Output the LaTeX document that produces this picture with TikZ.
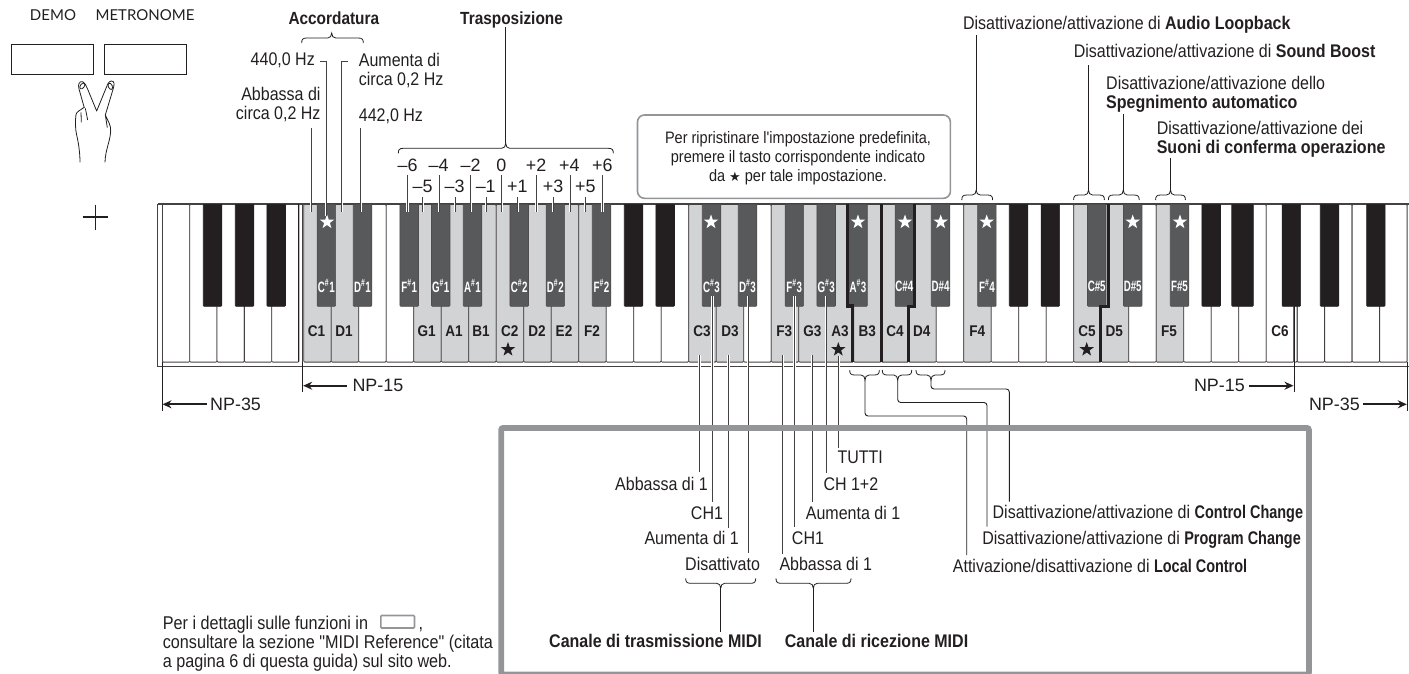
\documentclass[tikz,border=0pt]{standalone}
\usepackage{fontspec}
\usetikzlibrary{arrows.meta,shapes.geometric}
\setmainfont[FakeStretch=.875]{Liberation Sans}
\newfontfamily\plainf[FakeStretch=.875]{Liberation Sans}
\newfontfamily\midf[FakeStretch=.79]{Liberation Sans}
\newfontfamily\widef{Liberation Sans}
\newfontfamily\narrowf[FakeStretch=.65]{Liberation Sans}
\newfontfamily\btnf{Lato}
\newfontfamily\symf{DejaVu Sans}
\definecolor{ink}{HTML}{231F20}
\definecolor{gkey}{HTML}{D1D3D4}
\definecolor{dkey}{HTML}{58595B}
\definecolor{fr}{HTML}{939598}
\newcommand{\brc}[5]{%
\draw[bracel] ({#1},{#4+5*#5}) .. controls ({#1},{#4+1.5*#5}) and ({#1+1},{#4}) .. ({#1+5},{#4}) -- ({#2-4},{#4}) .. controls ({#2-1.5},{#4}) and ({#2},{#4-2*#5}) .. ({#2},{#4-5*#5}) .. controls ({#2},{#4-2*#5}) and ({#2+1.5},{#4}) .. ({#2+4},{#4}) -- ({#3-5},{#4}) .. controls ({#3-1},{#4}) and ({#3},{#4+1.5*#5}) .. ({#3},{#4+5*#5});}
\newcommand{\midb}[1]{{\midf\bfseries #1}}
\tikzset{
 bracel/.style={draw=ink,line width=.8},
 wire/.style={draw=ink!85,line width=.9,preaction={draw=white,line width=2.4}},
 whitek/.style={draw=ink!85,line width=.8,fill=white,rounded corners=1pt,anchor=north west,inner sep=0,minimum height=157.7,minimum width=27.5},
 grayk/.style={whitek,fill=gkey},
 darkk/.style={draw=ink!80,line width=.6,fill=dkey,rounded corners=.8pt,anchor=north,inner sep=0,minimum height=102,minimum width=18.5},
 blackk/.style={darkk,fill=ink,draw=ink},
 lbl/.style={inner sep=0,text=ink,font=\fontsize{18.3}{19}\selectfont,text height=12,text depth=0},
 mlbl/.style={inner sep=0,text=ink,font=\fontsize{18.3}{19}\selectfont},
 head/.style={lbl,font=\bfseries\fontsize{17.6}{19}\selectfont},
 num/.style={inner sep=0,text=ink,font=\widef\fontsize{17.9}{19}\selectfont,text height=12,text depth=0},
 wk/.style={inner sep=0,text=ink,font=\bfseries\fontsize{15.5}{16}\selectfont,text height=10,text depth=0},
 bk/.style={inner sep=0,text=white,font=\narrowf\bfseries\fontsize{15}{14}\selectfont,text height=10,text depth=0},
 wstar/.style={star,star points=5,star point ratio=2.5,fill=white,inner sep=0,minimum size=15,draw=none},
 bstar/.style={wstar,fill=ink},
 arr/.style={draw=ink,line width=1.7,-{Stealth[length=9,width=8]}},
 vline/.style={draw=ink,line width=.9},
}
\begin{document}
\begin{tikzpicture}[x=1pt,y=-1pt]
\useasboundingbox (0,0) rectangle (1409,673);
% base
\draw[draw=ink!85,line width=1] (157.5,204) rectangle (1412,366.7);
\draw[draw=ink!85,line width=1.4] (157.5,204) -- (1412,204);
% white keys left section
\foreach \i in {0,...,4} \node[whitek,minimum width=27.33] (lk\i) at ({162+27.33*\i},204) {};
\draw[draw=ink,line width=1] (298.7,204) -- (298.7,362);
\draw[draw=ink!85,line width=.9] (302.3,204) -- (302.3,362);
% main section
\foreach \i in {0,...,35} {
  \def\sty{whitek}
  \foreach \g in {0,1,4,5,6,7,8,9,10,14,15,17,18,19,20,21,22,24,28,29,31} {\ifnum\i=\g \global\def\sty{grayk}\fi}
  \node[\sty] (k\i) at ({303.3+27.5*\i},204) {};
  \gdef\sty{whitek}
}
\foreach \i in {0,...,3} \node[whitek] (rk\i) at ({1296.7+27.5*\i},204) {};
\node[whitek,minimum width=3.4] (kgap) at (1293.3,204) {};
% black keys
\foreach \n/\x in {l1/212.5,l2/244.5,l3/276.2,h1/633.5,h2/665.2,h3/1018.5,h4/1050.3,h5/1211.2,h7/1291.3,h8/1329.5,h9/1375.8}
  \node[blackk] (b\n) at (\x,204) {};
\node[blackk,minimum width=21.5] (bh6) at (1242.5,204) {};
\foreach \n/\x in {C1/326.3,D1/362.5,F1/409.2,G1/440.7,A1/472.5,C2/519.2,D2/555.3,F2/601.5,C3/711.5,D3/747.5,F3/794.3,G3/826.2,A3/858,C4/904.3,D4/940.5,F4/986.9,C5/1096.7,D5/1132.7,F5/1179.5}
  \node[darkk] (d\n) at (\x,204) {};
% thick key edges
\draw[draw=ink,line width=3.4] (847.5,204) -- (847.5,306) -- (852.5,306) -- (852.5,362);
\draw[draw=ink,line width=3.4] (881.5,204) -- (881.5,362);
\draw[draw=ink,line width=3] (914.5,204) -- (914.5,306) -- (908.5,306) -- (908.5,362);
\draw[draw=ink,line width=3] (1108,204) -- (1108,306) -- (1100.7,306) -- (1100.7,362);
% white key labels
\foreach \t/\x in {C1/316.5,D1/344,G1/426.7,A1/454,B1/481,C2/509.7,D2/537,E2/564,F2/592,C3/702,D3/730,F3/784.3,G3/812.3,A3/840,B3/867.3,C4/895,D4/921.7,F4/977.3,C5/1087,D5/1114.3,F5/1169,C6/1280}
  \node[wk] (L\t) at (\x,331) {\t};
% black key labels
\node[bk] (sC1) at (326.3,287) {C\textsuperscript{\#}1};
\node[bk] (sD1) at (362.5,287) {D\textsuperscript{\#}1};
\node[bk] (sF1) at (409.2,287) {F\textsuperscript{\#}1};
\node[bk] (sG1) at (440.7,287) {G\textsuperscript{\#}1};
\node[bk] (sA1) at (472.5,287) {A\textsuperscript{\#}1};
\node[bk] (sC2) at (519.2,287) {C\textsuperscript{\#}2};
\node[bk] (sD2) at (555.3,287) {D\textsuperscript{\#}2};
\node[bk] (sF2) at (601.5,287) {F\textsuperscript{\#}2};
\node[bk] (sC3) at (711.5,287) {C\textsuperscript{\#}3};
\node[bk] (sD3) at (747.5,287) {D\textsuperscript{\#}3};
\node[bk] (sF3) at (794.3,287) {F\textsuperscript{\#}3};
\node[bk] (sG3) at (826.2,287) {G\textsuperscript{\#}3};
\node[bk] (sA3) at (858,287) {A\textsuperscript{\#}3};
\node[bk] (sC4) at (904.3,286) {C\#4};
\node[bk] (sD4) at (940.5,286) {D\#4};
\node[bk] (sF4) at (986.9,287) {F\textsuperscript{\#}4};
\node[bk] (sC5) at (1096.7,286) {C\#5};
\node[bk] (sD5) at (1132.7,286) {D\#5};
\node[bk] (sF5) at (1179.5,286) {F\#5};
% stars
\foreach \x [count=\n] in {327,711,858,905,940.7,986.7,1132.7,1180} \node[wstar] (ws\n) at (\x,222) {};
\foreach \x [count=\n] in {508,838.3,1086.7} \node[bstar] (bs\n) at (\x,349.5) {};
% connectors
\foreach \x/\ya/\yb [count=\n] in {311/128/212,360.7/128/212,407.3/175/212,422.7/197/212,439/175/212,455/197/212,470.7/175/212,486/197/212,501.7/175/212,517.7/197/212,536.3/175/212,553/197/212,570/175/212,585/197/212,602.3/175/212,
  699.3/355/472.3,712.3/296/502.3,728.3/355/528.3,748.2/296/553.3,782.7/355/554,794.3/296/526.7,812/355/502.3,826/296/473.3,838.7/356/448}
{ \coordinate (wa\n) at (\x,\ya); \coordinate (wb\n) at (\x,\yb); \draw[wire] (wa\n) -- (wb\n); }
\coordinate (acA) at (320,61.7); \coordinate (acB) at (326,61.7); \coordinate (acC) at (326,216);
\draw[wire] (acA) -- (acB) -- (acC);
\coordinate (auA) at (348.3,61.7); \coordinate (auB) at (341.7,61.7); \coordinate (auC) at (341.7,212);
\draw[wire] (auA) -- (auB) -- (auC);
% top-right brace stems
\foreach \x/\ya [count=\n] in {976.2/35,1088.5/65,1123.3/114,1170.5/158.3,505.7/27}
{ \coordinate (sa\n) at (\x,\ya); }
\coordinate (sb1) at (976.2,190); \coordinate (sb2) at (1088.5,190); \coordinate (sb3) at (1123.3,190); \coordinate (sb4) at (1170.5,190); \coordinate (sb5) at (505.7,143);
\foreach \n in {1,...,5} \draw[vline] (sa\n) -- (sb\n);
% braces
\brc{301.7}{331.7}{363.3}{38}{1}
\brc{398.3}{505.7}{613.3}{148.3}{1}
\brc{961.8}{976.2}{992.6}{195}{1}
\brc{1073.6}{1088.5}{1104.4}{195}{1}
\brc{1108.4}{1123.3}{1139.2}{195}{1}
\brc{1155.6}{1170.5}{1185.4}{195}{1}
\brc{849.7}{865}{879.3}{375}{-1}
\brc{882.3}{897.7}{911.7}{375}{-1}
\brc{916}{931}{945}{375}{-1}
\brc{685.7}{720.7}{755.7}{583.3}{-1}
\brc{776}{813.3}{851}{583.3}{-1}
% routed connectors
\coordinate (c1a) at (865,380); \coordinate (c1b) at (865,416); \coordinate (c1c) at (966.7,416); \coordinate (c1d) at (966.7,555);
\coordinate (c2a) at (897.7,380); \coordinate (c2b) at (897.7,402.5); \coordinate (c2c) at (987,402.5); \coordinate (c2d) at (987,526.7);
\coordinate (c3a) at (931,380); \coordinate (c3b) at (931,389); \coordinate (c3c) at (1009.3,389); \coordinate (c3d) at (1009.3,501.7);
\foreach \n in {1,2,3} \draw[vline,rounded corners=3pt] (c\n a) -- (c\n b) -- (c\n c) -- (c\n d);
\coordinate (m1a) at (720.7,588.3); \coordinate (m1b) at (720.7,631.7); \draw[vline] (m1a) -- (m1b);
\coordinate (m2a) at (813.3,588.3); \coordinate (m2b) at (813.3,631.7); \draw[vline] (m2a) -- (m2b);
% NP markers
\coordinate (n1a) at (302.7,362); \coordinate (n1b) at (302.7,392.3); \draw[vline] (n1a) -- (n1b);
\coordinate (n2a) at (162,362); \coordinate (n2b) at (162,411); \draw[vline] (n2a) -- (n2b);
\coordinate (n3a) at (1294,306); \coordinate (n3b) at (1294,392.3); \draw[vline] (n3a) -- (n3b);
\coordinate (n4a) at (1407.3,362); \coordinate (n4b) at (1407.3,411); \draw[vline] (n4a) -- (n4b);
\node[num,anchor=west] (np1) at (352.3,385.7) {NP-15};
\node[num,anchor=west] (np2) at (210,404.3) {NP-35};
\node[num,anchor=east] (np3) at (1245,385.7) {NP-15};
\node[num,anchor=east] (np4) at (1360,404.3) {NP-35};
\coordinate (t1) at (303.2,385.7); \coordinate (t2) at (162.5,404.3); \coordinate (t3) at (1293.5,385.7); \coordinate (t4) at (1406.8,404.3);
\draw[arr] (346.7,385.7) -- (t1);
\draw[arr] (206.7,404.3) -- (t2);
\draw[arr] (1249,385.7) -- (t3);
\draw[arr] (1362.7,404.3) -- (t4);
% frame
\draw[draw=fr,line width=5.7,rounded corners=2pt] (501.2,427.9) rectangle (1308.9,674.5);
% note box
\draw[draw=fr,line width=1.6,rounded corners=7pt] (637.5,115) rectangle (950.4,198.3);
\node[mlbl,align=center,anchor=north,font=\plainf\fontsize{16.6}{18.7}\selectfont] (note) at (798,131.5) {Per ripristinare l'impostazione predefinita,\\premere il tasto corrispondente indicato\\da {\symf\fontsize{13}{13}\selectfont ★} per tale impostazione.};
% headings
\node[head,anchor=west] (acc) at (288.3,18) {Accordatura};
\node[head,anchor=west] (tra) at (460,18) {Trasposizione};
\node[lbl,anchor=east] (t440) at (315,59.3) {440,0 Hz};
\node[mlbl,align=right,anchor=north east] (tabb) at (320.7,87) {Abbassa di\\circa 0,2 Hz};
\node[mlbl,align=left,anchor=north west] (taum) at (358.7,53) {Aumenta di\\circa 0,2 Hz};
\node[lbl,anchor=west] (t442) at (358.7,115) {442,0 Hz};
% transposition numbers
\foreach \t/\x [count=\n] in {{–6}/407.7,{–4}/438.7,{–2}/470.7,0/501.3,{+2}/536,{+4}/569.3,{+6}/602.3}
  \node[num] (tu\n) at (\x,165) {\t};
\foreach \t/\x [count=\n] in {{–5}/422.7,{–3}/454.7,{–1}/485.7,{+1}/517.3,{+3}/553,{+5}/585.3}
  \node[num] (tl\n) at (\x,186) {\t};
% top right labels
\node[lbl,anchor=west] (r1) at (962.8,23.3) {Disattivazione/attivazione di \textbf{Audio Loopback}};
\node[lbl,anchor=west] (r2) at (1073.6,51.7) {Disattivazione/attivazione di \textbf{Sound Boost}};
\node[mlbl,align=left,anchor=north west] (r3) at (1106,76) {Disattivazione/attivazione dello\\\textbf{Spegnimento automatico}};
\node[mlbl,align=left,anchor=north west] (r4) at (1156.6,121.5) {Disattivazione/attivazione dei\\\textbf{Suoni di conferma operazione}};
% midi labels
\node[lbl,anchor=west] (m1) at (615,484.3) {Abbassa di 1};
\node[lbl] (m2) at (707,513.3) {CH1};
\node[lbl,anchor=west] (m3) at (644.3,538.3) {Aumenta di 1};
\node[lbl,anchor=west] (m4) at (685,564.3) {Disattivato};
\node[lbl,anchor=west] (m5) at (779.3,564.3) {Abbassa di 1};
\node[lbl] (m6) at (808,538.3) {CH1};
\node[lbl,anchor=west] (m7) at (805.7,513.3) {Aumenta di 1};
\node[lbl,anchor=west] (m8) at (823.3,484.3) {CH 1+2};
\node[lbl,anchor=west] (m9) at (837.3,457.3) {TUTTI};
\node[lbl,anchor=west,font=\bfseries\fontsize{18.3}{19}\selectfont] (m10) at (549,641) {Canale di trasmissione MIDI};
\node[lbl,anchor=west,font=\bfseries\fontsize{18.3}{19}\selectfont] (m11) at (784.7,641) {Canale di ricezione MIDI};
\node[lbl,anchor=east] (m12) at (1303.3,512.7) {Disattivazione/attivazione di \midb{Control Change}};
\node[lbl,anchor=east] (m13) at (1301,538.3) {Disattivazione/attivazione di \midb{Program Change}};
\node[lbl,anchor=west] (m14) at (952.7,566.7) {Attivazione/disattivazione di \midb{Local Control}};
% footnote
\node[mlbl,align=left,anchor=north west,font=\plainf\fontsize{18.5}{19.2}\selectfont] (foot) at (162.7,615.5) {Per i dettagli sulle funzioni in \hspace{46pt},\\consultare la sezione "MIDI Reference" (citata\\a pagina 6 di questa guida) sul sito web.};
\draw[draw=fr,line width=1.6,rounded corners=1pt] (380.8,615.5) rectangle (414.5,628);
% buttons
\node[inner sep=0,text=ink,font=\btnf\fontsize{15}{14}\selectfont] (demo) at (53,15) {DEMO};
\node[inner sep=0,text=ink,font=\btnf\fontsize{15}{14}\selectfont] (metro) at (145,15) {METRONOME};
\node[draw=ink,line width=.9,inner sep=0,minimum width=82.3,minimum height=30] (bd) at (52.2,59) {};
\node[draw=ink,line width=.9,inner sep=0,minimum width=81.7,minimum height=30] (bm) at (145.2,59) {};
% hand
\begin{scope}[shift={(70,75)},x=.3333pt,y=-.3333pt,line width=.8,draw=ink]
\draw[ink,line join=round] (30,262) .. controls (30,235) and (26,205) .. (20,180) .. controls (15,160) and (16,135) .. (18,118) .. controls (20,110) and (32,105) .. (38,100) -- (44,96)
  (42,95) -- (27,42) .. controls (22,27) and (30,17) .. (38,20) .. controls (45,23) and (48,32) .. (52,40) -- (80,108) -- (110,35) .. controls (114,22) and (122,14) .. (130,20) .. controls (135,25) and (130,40) .. (127,50) -- (106,120) .. controls (112,135) and (124,150) .. (122,170) .. controls (120,200) and (106,225) .. (105,262)
  (33,112) -- (34,142) (46,100) -- (53,135) (106,120) -- (112,158);
\draw[ink,rotate around={-35:(37,33)}] (37,33) ellipse (6 and 10);
\draw[ink,rotate around={25:(121,34)}] (121,34) ellipse (6 and 10);
\end{scope}
% plus
\coordinate (pl) at (82.7,217); \coordinate (pr) at (108.3,217); \coordinate (pt) at (95.5,204.5); \coordinate (pb) at (95.5,230);
\draw[draw=ink,line width=1.2] (pl) -- (pr) (pt) -- (pb);
\end{tikzpicture}
\end{document}
